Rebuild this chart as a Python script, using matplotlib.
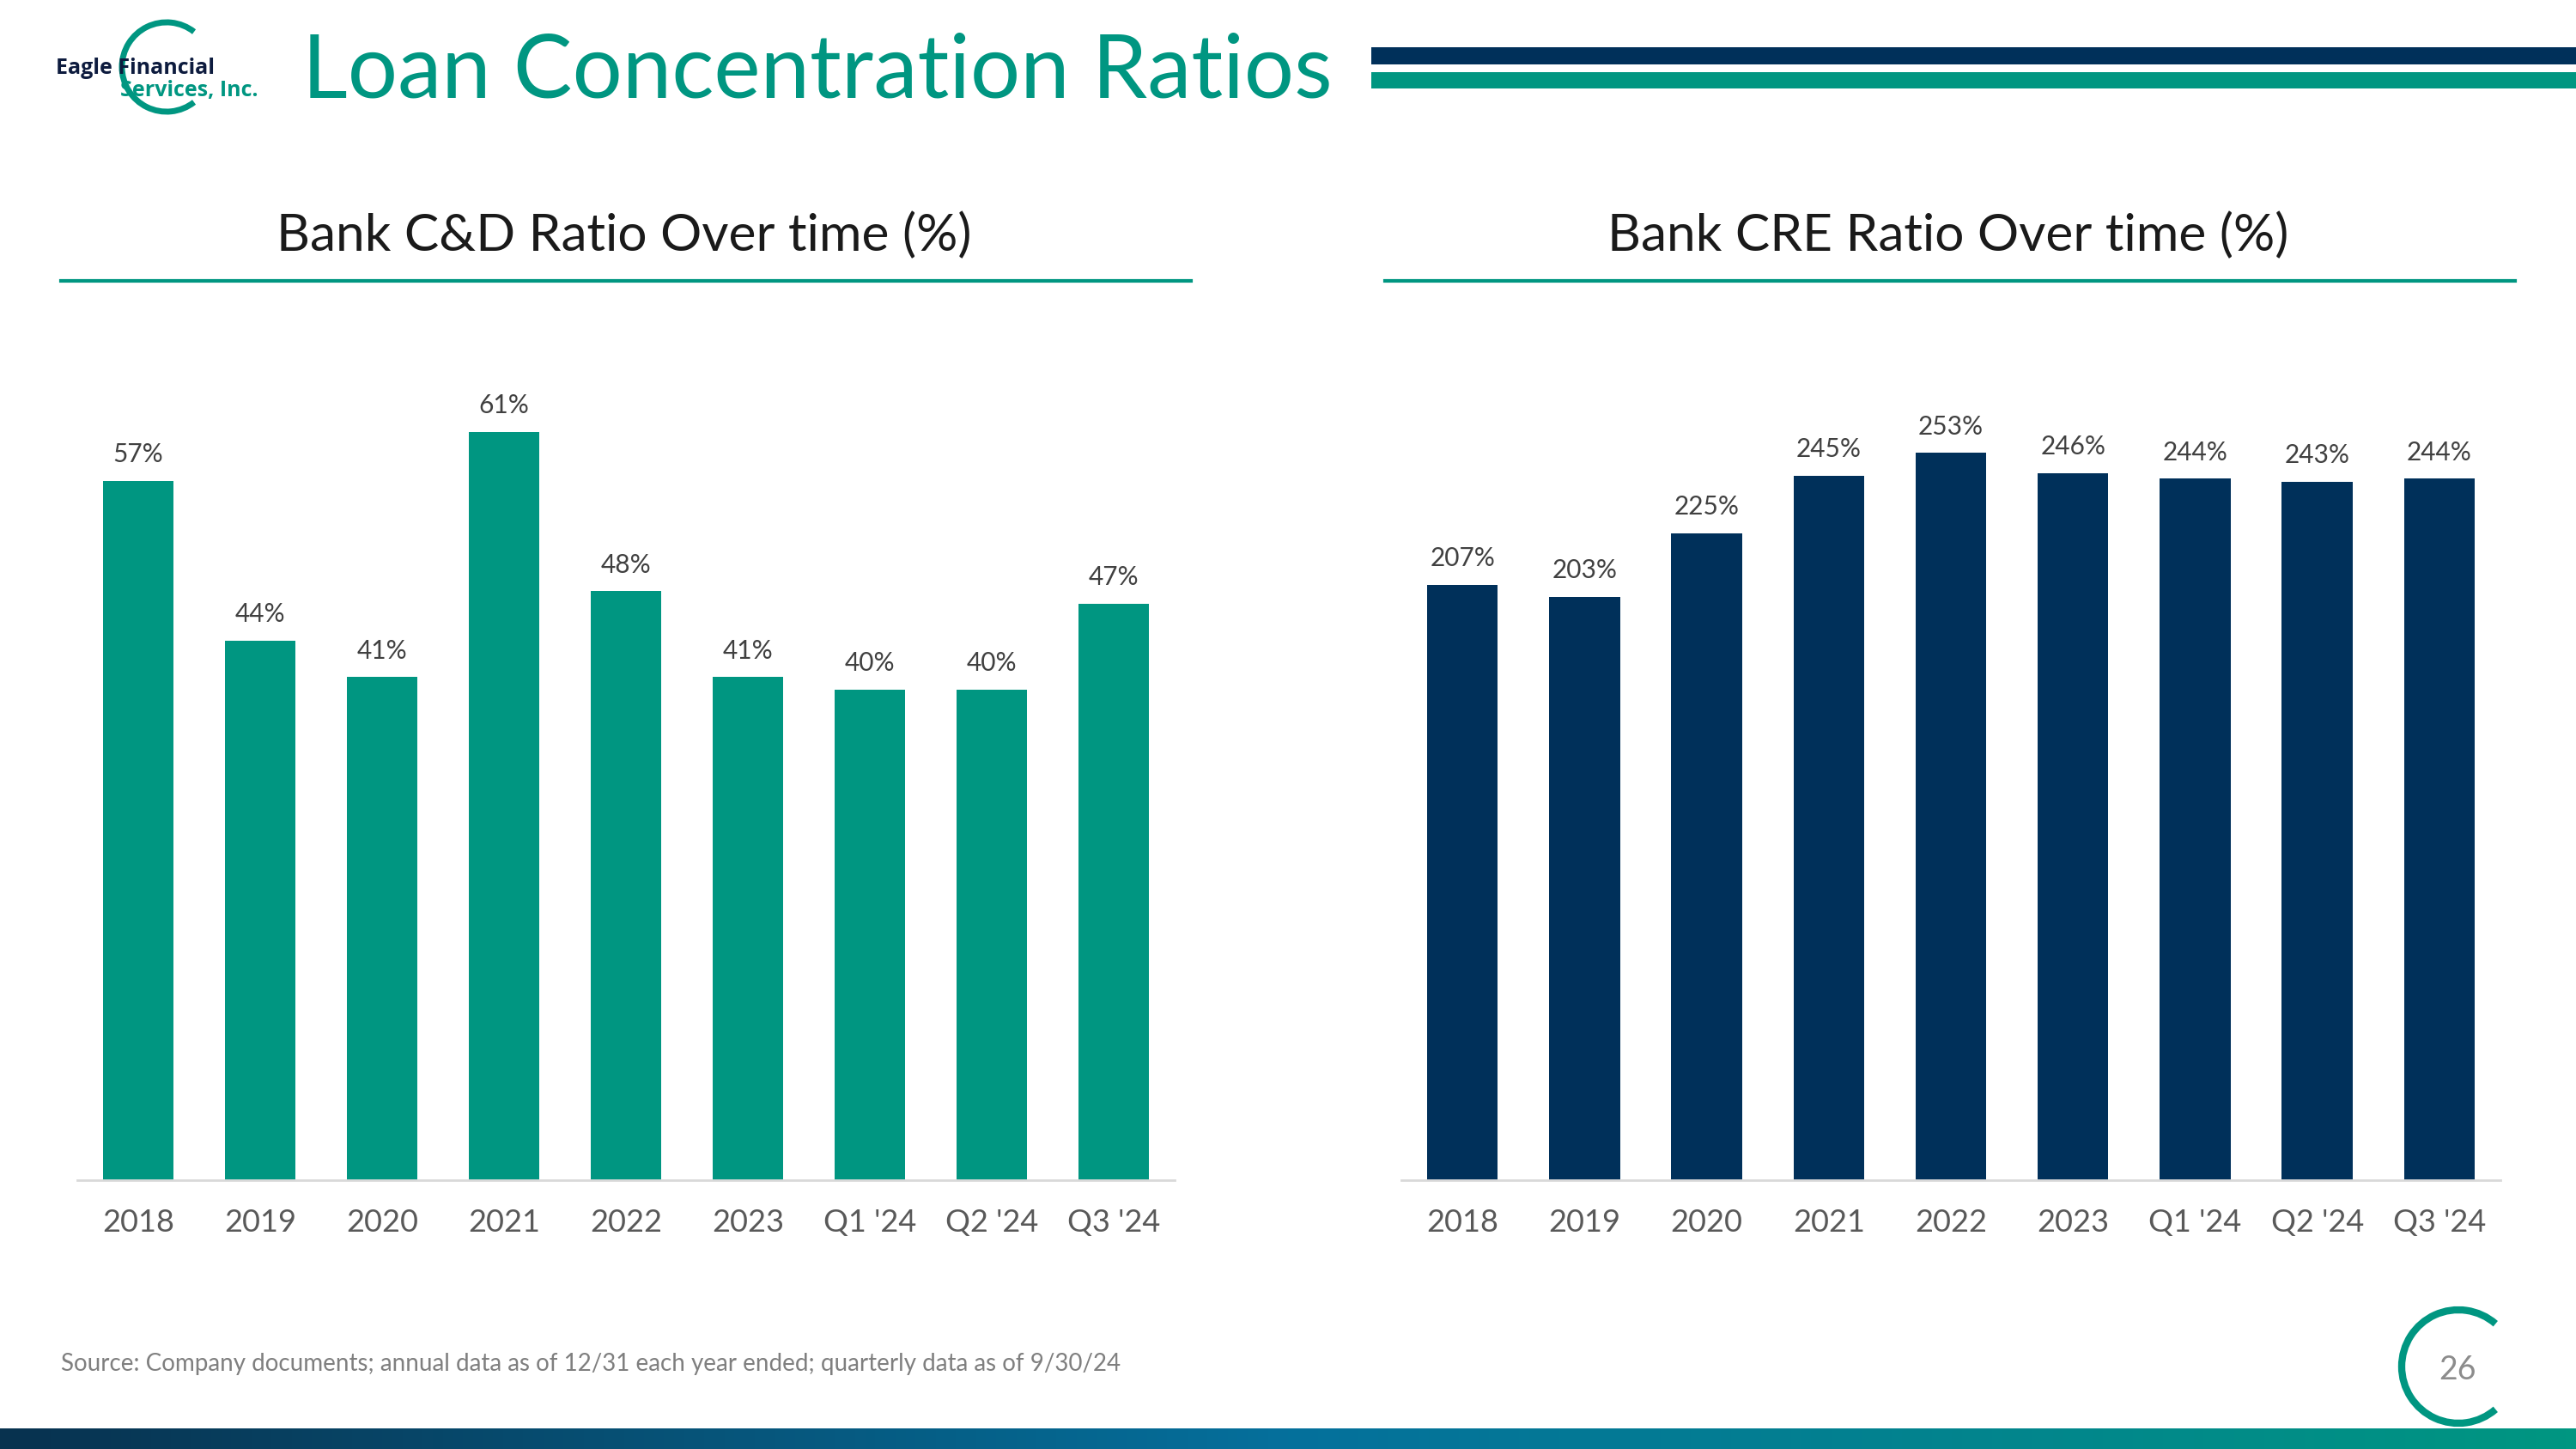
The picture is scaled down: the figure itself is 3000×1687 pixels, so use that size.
import matplotlib.pyplot as plt
import numpy as np
from matplotlib.patches import Arc
from matplotlib.colors import LinearSegmentedColormap

categories = ["2018", "2019", "2020", "2021", "2022", "2023", "Q1 '24", "Q2 '24", "Q3 '24"]
cd_ratio = [57, 44, 41, 61, 48, 41, 40, 40, 47]
cre_ratio = [207, 203, 225, 245, 253, 246, 244, 243, 244]

TEAL = "#009681"
NAVY = "#00305a"
GREY = "#595959"

plt.rcParams['font.family'] = ["Lato", "DejaVu Sans"]

W, H = 3000, 1687
fig = plt.figure(figsize=(30, 16.87), dpi=100)

# background layer in pixel coordinates for the slide decorations
bg = fig.add_axes([0, 0, 1, 1])
bg.set_xlim(0, W)
bg.set_ylim(H, 0)
bg.axis("off")

# header
bg.text(352, 84, "Loan Concentration Ratios", color=TEAL, fontsize=74,
        va="center", ha="left")
bg.fill_between([1597, W], 55, 75, color=NAVY, lw=0)
bg.fill_between([1597, W], 84, 103, color=TEAL, lw=0)

# logo
bg.add_patch(Arc((194, 78), 104, 104, theta1=52, theta2=308, color=TEAL, lw=5))
bg.text(65, 86, "Eagle Financial", color="#0d1b3e", fontsize=18,
        fontweight="bold", family="Open Sans", va="baseline", ha="left")
bg.text(140, 112, "Services, Inc.", color=TEAL, fontsize=18,
        fontweight="bold", family="Open Sans", va="baseline", ha="left")

# chart titles + underlines
bg.text(727, 274, "Bank C&D Ratio Over time (%)", color="#1a1a1a",
        fontsize=43.5, ha="center", va="center")
bg.text(2269, 274, "Bank CRE Ratio Over time (%)", color="#1a1a1a",
        fontsize=43.5, ha="center", va="center")
bg.plot([71, 1387], [327, 327], color=TEAL, lw=3)
bg.plot([1613, 2929], [327, 327], color=TEAL, lw=3)

# footer
bg.text(71, 1588, "Source: Company documents; annual data as of 12/31 each year ended; "
        "quarterly data as of 9/30/24", color="#7f7f7f", fontsize=20,
        ha="left", va="center")
bg.add_patch(Arc((2863, 1591), 132, 132, theta1=49, theta2=311, color=TEAL, lw=6))
bg.text(2862, 1595, "26", color="#8c8c8c", fontsize=27, ha="center", va="center")

grad = LinearSegmentedColormap.from_list("band", ["#08324f", "#05709c", TEAL])
bg.imshow(np.linspace(0, 1, 256).reshape(1, -1), cmap=grad, aspect="auto",
          extent=[0, W, H, 1663], zorder=1)
bg.set_xlim(0, W)
bg.set_ylim(H, 0)


def bar_chart(rect, values, color, ymax):
    ax = fig.add_axes(rect)
    x = np.arange(len(categories))
    bars = ax.bar(x, values, width=0.58, color=color, zorder=2)
    for b, v in zip(bars, values):
        ax.annotate(f"{v}%", (b.get_x() + b.get_width() / 2, v),
                    xytext=(0, 12), textcoords="offset points",
                    ha="center", va="bottom", fontsize=21.5, color="#404040")
    ax.set_xlim(-0.5, len(categories) - 0.5)
    ax.set_ylim(0, ymax)
    ax.set_xticks(x, categories)
    ax.tick_params(axis="x", length=0, pad=24, labelsize=26, labelcolor=GREY)
    ax.set_yticks([])
    for s in ["top", "left", "right"]:
        ax.spines[s].set_visible(False)
    ax.spines["bottom"].set_color("#d9d9d9")
    ax.spines["bottom"].set_linewidth(2)
    ax.patch.set_alpha(0)
    return ax


bottom = 1 - 1374 / H
height = (1374 - 400) / H
bar_chart([90 / W, bottom, 1278 / W, height], cd_ratio, TEAL, 68.2)
bar_chart([1632 / W, bottom, 1280 / W, height], cre_ratio, NAVY, 291)

fig.savefig("out.png", dpi=100)
